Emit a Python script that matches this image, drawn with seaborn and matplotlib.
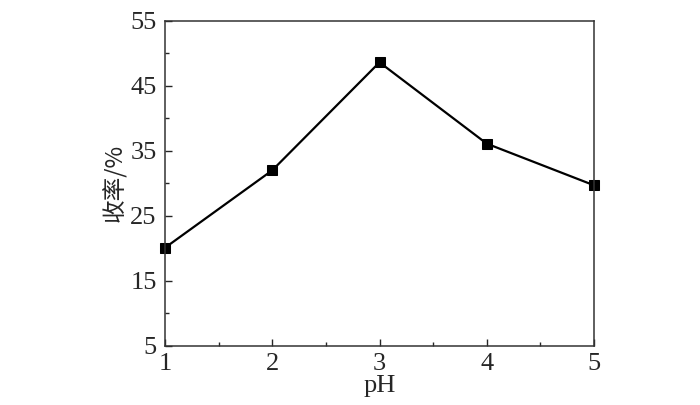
import matplotlib
matplotlib.use('Agg')
import matplotlib.pyplot as plt
from matplotlib.ticker import MultipleLocator
import pandas as pd
import seaborn as sns

ph = [1, 2, 3, 4, 5]
yield_pct = [20.1, 32.0, 48.6, 36.1, 29.7]
y_ticks = [5, 15, 25, 35, 45, 55]
x_ticks = [1, 2, 3, 4, 5]

sns.set_style('ticks')
plt.rcParams['font.family'] = ['Liberation Serif', 'Noto Sans CJK SC']

df = pd.DataFrame({'pH': ph, 'yield': yield_pct})

fig = plt.figure(figsize=(7, 4.05), dpi=100)
ax = fig.add_axes([0.2357, 0.1457, 0.6129, 0.8032])
sns.lineplot(data=df, x='pH', y='yield', ax=ax, color='black', linewidth=1.6,
             marker='s', markersize=7, markeredgecolor='black')
for ln in ax.lines:
    ln.set_clip_on(False)

ax.set_xlim(1, 5)
ax.set_ylim(5, 55)
ax.set_xticks(x_ticks)
ax.set_yticks(y_ticks)
ax.xaxis.set_minor_locator(MultipleLocator(0.5))
ax.yaxis.set_minor_locator(MultipleLocator(5))
ax.tick_params(which='major', direction='in', length=5, width=1, labelsize=19)
ax.tick_params(axis='y', which='major', pad=6)
ax.tick_params(axis='x', which='major', pad=5)
ax.tick_params(which='minor', direction='in', length=3, width=1)
for s in ax.spines.values():
    s.set_linewidth(1.1)
    s.set_color('#333333')

ax.set_xlabel('pH', fontsize=19, labelpad=0)
ax.set_ylabel('收率/%', fontsize=17, family=['Noto Sans CJK SC', 'Liberation Serif'], labelpad=2)

fig.savefig('out.png', dpi=100)
